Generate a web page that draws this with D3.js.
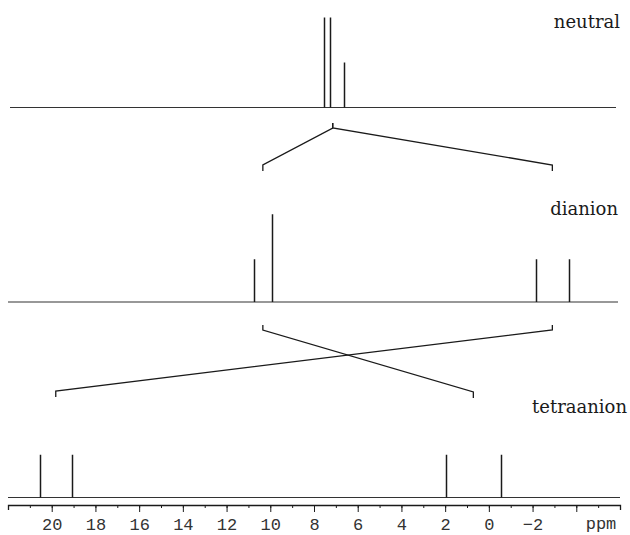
<!DOCTYPE html>
<html>
<head>
<meta charset="utf-8">
<script src="https://cdn.jsdelivr.net/npm/d3@7"></script>
<style>
  html, body { margin: 0; padding: 0; background: #fff; }
  svg { display: block; }
</style>
</head>
<body>
<svg id="chart" width="630" height="535"></svg>
<script>
// 1H NMR stick spectra (ppm) of the neutral compound and its reduced forms
const spectraNames = ["neutral", "dianion", "tetraanion"];

const neutralShifts = [7.55, 7.25, 6.63];
const neutralIntensity = [2.0, 2.0, 1.0];

const dianionShifts = [10.75, 9.93, -2.15, -3.66];
const dianionIntensity = [0.95, 1.95, 0.95, 0.95];

const tetraShifts = [20.55, 19.08, 1.97, -0.55];
const tetraIntensity = [0.95, 0.95, 0.95, 0.95];

// signal groups joined by correlation brackets
const neutralGroups = [[7.55, 7.25, 6.63]];
const dianionGroups = [[10.75, 9.93], [-2.15, -3.66]];
const tetraGroups = [[20.55, 19.08], [1.97, -0.55]];

// axis
const majorTicks = [20, 18, 16, 14, 12, 10, 8, 6, 4, 2, 0, -2, -4];
const labelledTicks = [20, 18, 16, 14, 12, 10, 8, 6, 4, 2, 0, -2];
const minorTicks = d3.range(21, -6, -1);
const axisUnit = "ppm";

const svg = d3.select("#chart");
const ink = "#1a1a1a";

const x = d3.scaleLinear().domain([22, -6]).range([8, 620]);
const h = d3.scaleLinear().domain([0, 1]).range([0, 45]);

const panels = [
  { name: spectraNames[0], shifts: neutralShifts, intens: neutralIntensity, base: 107.5, x0: 10, x1: 616, labelX: 620, labelY: 28 },
  { name: spectraNames[1], shifts: dianionShifts, intens: dianionIntensity, base: 302, x0: 8, x1: 618, labelX: 618, labelY: 215 },
  { name: spectraNames[2], shifts: tetraShifts, intens: tetraIntensity, base: 497.5, x0: 8, x1: 620, labelX: 627, labelY: 413 }
];

panels.forEach(p => {
  const g = svg.append("g");
  g.append("line")
    .attr("x1", p.x0).attr("x2", p.x1)
    .attr("y1", p.base).attr("y2", p.base)
    .attr("stroke", "#333").attr("stroke-width", 1.2);
  g.selectAll("line.peak")
    .data(p.shifts.map((s, i) => ({ s, v: p.intens[i] })))
    .join("line")
    .attr("class", "peak")
    .attr("x1", d => Math.round(x(d.s)) + 0.5)
    .attr("x2", d => Math.round(x(d.s)) + 0.5)
    .attr("y1", p.base)
    .attr("y2", d => p.base - h(d.v))
    .attr("stroke", ink).attr("stroke-width", 1.5);
  g.append("text")
    .attr("x", p.labelX).attr("y", p.labelY)
    .attr("text-anchor", "end")
    .attr("font-family", "'DejaVu Serif', serif")
    .attr("font-size", 18)
    .attr("fill", ink)
    .text(p.name);
});

// correlation brackets between spectra
const centre = grp => x(d3.mean(grp));
const tick = 5;

function link(fromGrp, yTop, toGrp, yBot) {
  const xa = centre(fromGrp), xb = centre(toGrp);
  svg.append("path")
    .attr("d", `M${xa},${yTop - tick}V${yTop}L${xb},${yBot}V${yBot + tick + 1}`)
    .attr("fill", "none")
    .attr("stroke", ink)
    .attr("stroke-width", 1.3);
}

link(neutralGroups[0], 128, dianionGroups[0], 165);
link(neutralGroups[0], 128, dianionGroups[1], 165);
link(dianionGroups[0], 330, tetraGroups[1], 392);
link(dianionGroups[1], 330, tetraGroups[0], 391);

// chemical shift axis
const axisY = 505;
const minorAxis = d3.axisBottom(x)
  .tickValues(minorTicks)
  .tickSize(3)
  .tickSizeOuter(0)
  .tickFormat("");
svg.append("g")
  .attr("transform", `translate(0,${axisY})`)
  .call(minorAxis)
  .call(g => g.select(".domain").remove())
  .selectAll("line").attr("stroke", ink);

const majorAxis = d3.axisBottom(x)
  .tickValues(majorTicks)
  .tickSize(7)
  .tickSizeOuter(5)
  .tickPadding(6)
  .tickFormat(d => labelledTicks.includes(d) ? (d < 0 ? "\u2212" + Math.abs(d) : String(d)) : "");
const ax = svg.append("g")
  .attr("transform", `translate(0,${axisY})`)
  .call(majorAxis);
ax.select(".domain").attr("stroke", ink).attr("stroke-width", 1.3);
ax.selectAll(".tick line").attr("stroke", ink);
ax.selectAll(".tick text")
  .attr("font-family", "'Liberation Mono', 'Courier New', monospace")
  .attr("font-size", 17)
  .attr("fill", "#333");

svg.append("text")
  .attr("x", 601).attr("y", 529)
  .attr("text-anchor", "middle")
  .attr("font-family", "'Liberation Mono', 'Courier New', monospace")
  .attr("font-size", 17)
  .attr("fill", "#333")
  .text(axisUnit);
</script>
</body>
</html>
